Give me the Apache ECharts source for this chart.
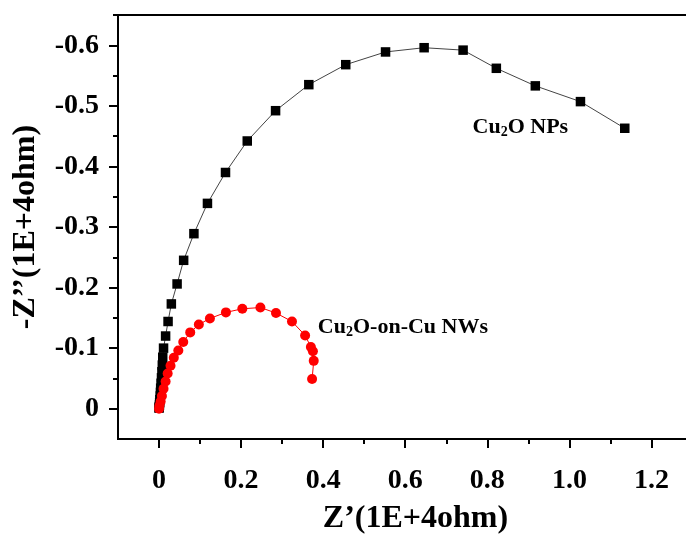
<!DOCTYPE html>
<html>
<head>
<meta charset="utf-8">
<script src="https://cdn.jsdelivr.net/npm/echarts@6/dist/echarts.min.js"></script>
<style>
  html, body { margin: 0; padding: 0; background: #fff; }
  #chart { width: 686px; height: 534px; }
</style>
</head>
<body>
<div id="chart"></div>
<script>
// Cu2O NPs (black squares), ordered from origin outward
const npsZre = [0, 0.0005, 0.001, 0.0015, 0.002, 0.003, 0.0035, 0.004, 0.005, 0.006, 0.007, 0.008, 0.009,
  0.011, 0.016, 0.022, 0.030, 0.044, 0.060, 0.085, 0.118, 0.162, 0.215, 0.284, 0.365, 0.455, 0.552,
  0.646, 0.741, 0.822, 0.917, 1.027, 1.135]
const npsZim = [-0.001, -0.003, -0.006, -0.010, -0.015, -0.021, -0.027, -0.034, -0.042, -0.051, -0.061, -0.072, -0.085,
  -0.100, -0.120, -0.144, -0.173, -0.206, -0.245, -0.289, -0.339, -0.390, -0.442, -0.492, -0.535, -0.568, -0.589,
  -0.596, -0.592, -0.562, -0.533, -0.507, -0.463]

// Cu2O-on-Cu NWs (red circles)
const nwsZre = [0, 0.001, 0.004, 0.007, 0.011, 0.016, 0.021, 0.028, 0.036, 0.047, 0.059, 0.076, 0.097,
  0.124, 0.163, 0.203, 0.247, 0.285, 0.324, 0.356, 0.370, 0.375, 0.377, 0.373]
const nwsZim = [0, -0.005, -0.012, -0.021, -0.033, -0.045, -0.058, -0.071, -0.084, -0.096, -0.110, -0.126, -0.139,
  -0.149, -0.159, -0.165, -0.167, -0.158, -0.144, -0.121, -0.102, -0.095, -0.079, -0.049]

const xTicks = [0, 0.2, 0.4, 0.6, 0.8, 1.0, 1.2]
const xMinorTicks = [0.1, 0.3, 0.5, 0.7, 0.9, 1.1, 1.3]
const yTicks = [-0.6, -0.5, -0.4, -0.3, -0.2, -0.1, 0]
const yMinorTicks = [-0.65, -0.55, -0.45, -0.35, -0.25, -0.15, -0.05]

const npsLabelAt = [0.764, -0.464]
const nwsLabelAt = [0.387, -0.134]

const pairs = (xs, ys) => xs.map((x, i) => [x, ys[i]])
const fmt = (v) => (Math.abs(v) < 1e-9 ? '0' : v.toFixed(1))

const serif = 'Liberation Serif, Times New Roman, serif'
const richText = {
  a: { fontFamily: serif, fontWeight: 'bold', fontSize: 22, color: '#000' },
  s: { fontFamily: serif, fontWeight: 'bold', fontSize: 14, color: '#000', padding: [9, 0, 0, 0] },
}

const xBase = { type: 'value', min: -0.1, max: 1.35, splitLine: { show: false } }
const yBase = { type: 'value', min: -0.65, max: 0.05, inverse: true, splitLine: { show: false } }
const tickLine = { color: '#000', width: 2 }

const chart = echarts.init(document.getElementById('chart'))
chart.setOption({
  backgroundColor: '#fff',
  animation: false,
  grid: {
    left: 118, width: 595, top: 15, height: 424,
    containLabel: false, outerBoundsMode: 'none',
    show: true, borderColor: '#000', borderWidth: 2, backgroundColor: 'transparent',
  },
  xAxis: [
    {
      ...xBase,
      position: 'bottom',
      name: 'Z\u2019(1E+4ohm)',
      nameLocation: 'middle',
      nameGap: 64,
      nameTextStyle: { fontFamily: serif, fontWeight: 'bold', fontSize: 32, color: '#000' },
      axisLine: { show: true, onZero: false, lineStyle: { color: '#000', width: 2 } },
      axisTick: { show: true, inside: false, length: 9, lineStyle: tickLine, customValues: xTicks },
      axisLabel: {
        customValues: xTicks, formatter: fmt, margin: 28,
        fontFamily: serif, fontWeight: 'bold', fontSize: 28, color: '#000',
      },
    },
    {
      ...xBase,
      position: 'bottom',
      axisLine: { show: false, onZero: false },
      axisTick: { show: true, inside: false, length: 5, lineStyle: tickLine, customValues: xMinorTicks },
      axisLabel: { show: false },
    },
  ],
  yAxis: [
    {
      ...yBase,
      position: 'left',
      name: '-Z\u2019\u2019(1E+4ohm)',
      nameLocation: 'middle',
      nameGap: 76,
      nameTextStyle: { fontFamily: serif, fontWeight: 'bold', fontSize: 32, color: '#000' },
      axisLine: { show: true, onZero: false, lineStyle: { color: '#000', width: 2 } },
      axisTick: { show: true, inside: false, length: 9, lineStyle: tickLine, customValues: yTicks },
      axisLabel: {
        customValues: yTicks, formatter: fmt, margin: 19,
        fontFamily: serif, fontWeight: 'bold', fontSize: 28, color: '#000',
      },
    },
    {
      ...yBase,
      position: 'left',
      axisLine: { show: false, onZero: false },
      axisTick: { show: true, inside: false, length: 5, lineStyle: tickLine, customValues: yMinorTicks },
      axisLabel: { show: false },
    },
  ],
  series: [
    {
      name: 'Cu2O NPs',
      type: 'line',
      data: pairs(npsZre, npsZim),
      symbol: 'rect',
      symbolSize: 9.5,
      itemStyle: { color: '#000' },
      lineStyle: { color: '#444', width: 1 },
      z: 3,
      markPoint: {
        symbol: 'circle', symbolSize: 0,
        data: [{ coord: npsLabelAt }],
        label: { show: true, position: 'right', distance: 0, formatter: '{a|Cu}{s|2}{a|O NPs}', rich: richText },
      },
    },
    {
      name: 'Cu2O-on-Cu NWs',
      type: 'line',
      data: pairs(nwsZre, nwsZim),
      symbol: 'circle',
      symbolSize: 10,
      itemStyle: { color: '#ff0000' },
      lineStyle: { color: '#ff0000', width: 1 },
      z: 4,
      markPoint: {
        symbol: 'circle', symbolSize: 0,
        data: [{ coord: nwsLabelAt }],
        label: { show: true, position: 'right', distance: 0, formatter: '{a|Cu}{s|2}{a|O-on-Cu NWs}', rich: richText },
      },
    },
  ],
})
</script>
</body>
</html>
